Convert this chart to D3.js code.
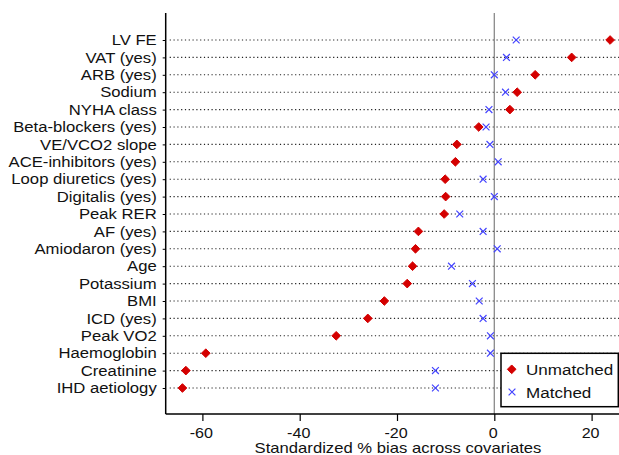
<!DOCTYPE html>
<html><head><meta charset="utf-8">
<script src="https://cdn.jsdelivr.net/npm/d3@7"></script>
<style>html,body{margin:0;padding:0;background:#fff;}svg{display:block;}</style>
</head><body>
<svg id="chart" width="619" height="455"></svg>
<script>
const covariates = ["LV FE","VAT (yes)","ARB (yes)","Sodium","NYHA class","Beta-blockers (yes)","VE/VCO2 slope","ACE-inhibitors (yes)","Loop diuretics (yes)","Digitalis (yes)","Peak RER","AF (yes)","Amiodaron (yes)","Age","Potassium","BMI","ICD (yes)","Peak VO2","Haemoglobin","Creatinine","IHD aetiology"];
const unmatched = [23.8,15.9,8.4,4.7,3.2,-3.2,-7.7,-8.0,-10.1,-10.0,-10.3,-15.6,-16.2,-16.8,-17.9,-22.6,-26.0,-32.5,-59.3,-63.4,-64.1];
const matched = [4.5,2.5,0.0,2.3,-1.1,-1.7,-0.9,0.8,-2.3,0.0,-7.1,-2.3,0.6,-8.8,-4.5,-3.1,-2.3,-0.8,-0.8,-12.1,-12.1];
const xTicks = [-60,-40,-20,0,20];
const legendLabels = ["Unmatched","Matched"];
const axisTitle = "Standardized % bias across covariates";

(function(){
const svg = d3.select("#chart");
const font = "Arial, 'Liberation Sans', sans-serif";
const leftX = 165.7, bottomY = 414, topY = 13;
const x = d3.scaleLinear().domain([-67.5, 26]).range([165.9, 620.8]);
const y = d3.scalePoint().domain(covariates).range([40, 388]);

// dotted guide lines
svg.append("g").selectAll("line").data(covariates).join("line")
  .attr("x1", leftX + 4).attr("x2", 619)
  .attr("y1", d => y(d)).attr("y2", d => y(d))
  .attr("stroke", "#222").attr("stroke-width", 1.1)
  .attr("stroke-dasharray", "1.2,2.6");

// zero line
svg.append("line").attr("x1", x(0)).attr("x2", x(0)).attr("y1", topY).attr("y2", bottomY)
  .attr("stroke", "#8a8a8a").attr("stroke-width", 1.3);

// x axis
const xAxis = svg.append("g").attr("transform", `translate(0,${bottomY})`)
  .call(d3.axisBottom(x).tickValues(xTicks).tickSize(7).tickPadding(6.6).tickFormat(d3.format("d")));
xAxis.select(".domain").attr("d", `M${leftX},0H619`).attr("stroke", "#000").attr("stroke-width", 1.5);
xAxis.selectAll(".tick line").attr("stroke", "#000").attr("stroke-width", 1.2);
xAxis.selectAll(".tick text").attr("font-family", font).attr("font-size", 14).attr("fill", "#111")
  .attr("transform", "scale(1.15,1)").attr("x", -1.5 / 1.15)
  .text(d => d < 0 ? "-" + Math.abs(d) : d);

// y axis
const yAxis = svg.append("g").attr("transform", `translate(${leftX},0)`)
  .call(d3.axisLeft(y).tickSize(3).tickPadding(6));
yAxis.select(".domain").attr("d", `M0,${topY}V${bottomY}`).attr("stroke", "#000").attr("stroke-width", 1.5);
yAxis.selectAll(".tick line").attr("stroke", "#000");
yAxis.selectAll(".tick text").attr("font-family", font).attr("font-size", 14.5).attr("fill", "#111")
  .attr("transform", "scale(1.15,1)").attr("x", -9 / 1.15);

// markers
const diamond = d3.symbol().type(d3.symbolDiamond2).size(48);
svg.append("g").selectAll("path").data(covariates).join("path")
  .attr("d", diamond)
  .attr("transform", (d, i) => `translate(${x(unmatched[i])},${y(d)})`)
  .attr("fill", "#d40000").attr("stroke", "#d40000").attr("stroke-width", 1).attr("stroke-linejoin", "round");
const cross = d3.symbol().type(d3.symbolTimes).size(32);
svg.append("g").selectAll("path").data(covariates).join("path")
  .attr("d", cross)
  .attr("transform", (d, i) => `translate(${x(matched[i])},${y(d)})`)
  .attr("fill", "none").attr("stroke", "#4343ff").attr("stroke-width", 1.2);

// axis title
svg.append("text").attr("transform", "translate(398,453) scale(1.19,1)").attr("text-anchor", "middle")
  .attr("font-family", font).attr("font-size", 14).attr("fill", "#111").text(axisTitle);

// legend
const lg = svg.append("g");
lg.append("rect").attr("x", 501).attr("y", 353.3).attr("width", 117.3).attr("height", 53.4)
  .attr("fill", "#fff").attr("stroke", "#000").attr("stroke-width", 1.5);
lg.append("path").attr("d", diamond).attr("transform", "translate(511.7,369.3)")
  .attr("fill", "#d40000").attr("stroke", "#d40000").attr("stroke-width", 1).attr("stroke-linejoin", "round");
lg.append("path").attr("d", cross).attr("transform", "translate(512,392)")
  .attr("fill", "none").attr("stroke", "#4343ff").attr("stroke-width", 1.2);
lg.selectAll("text").data(legendLabels).join("text")
  .attr("transform", (d, i) => `translate(526,${374.8 + i * 22.7}) scale(1.1,1)`)
  .attr("font-family", font).attr("font-size", 15.5).attr("fill", "#111").text(d => d);
})();
</script>
</body></html>
